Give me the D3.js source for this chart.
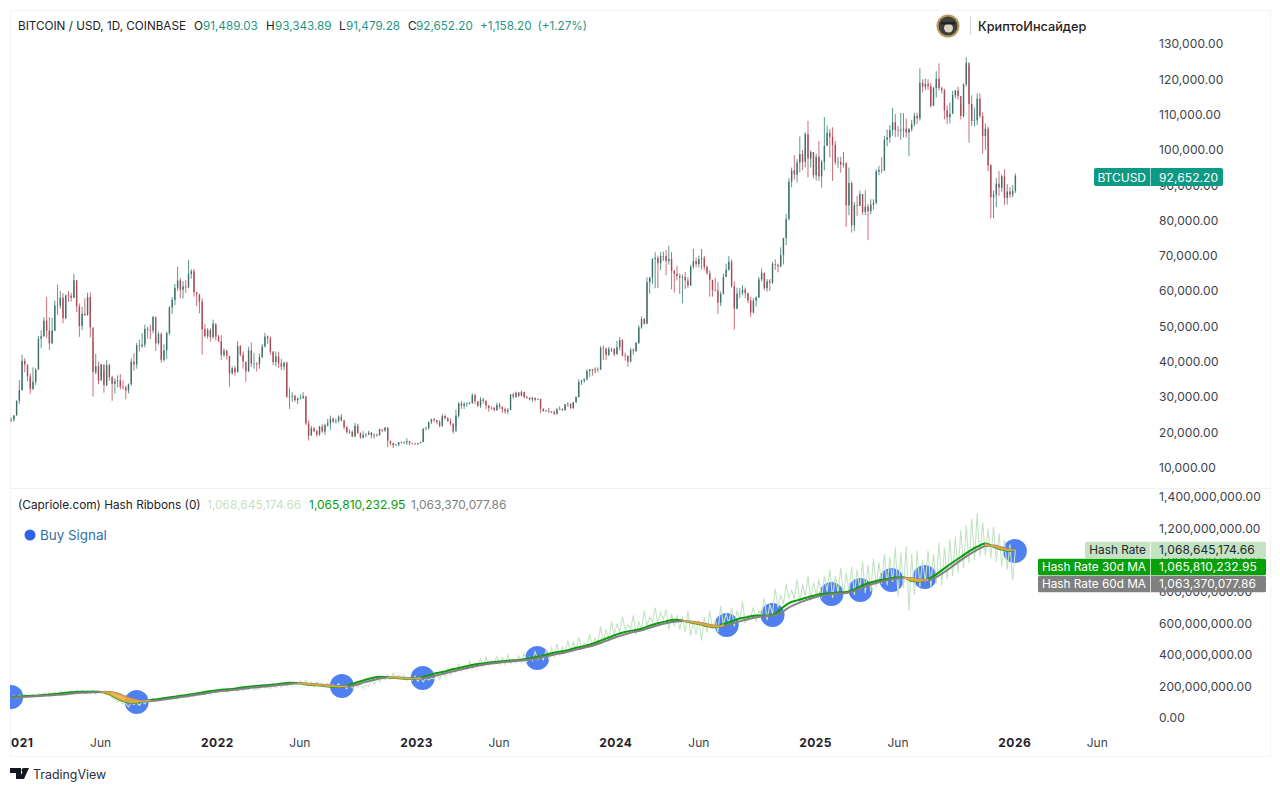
<!DOCTYPE html>
<html>
<head>
<meta charset="utf-8">
<title>BTCUSD Hash Ribbons</title>
<script src="https://cdn.jsdelivr.net/npm/d3@7"></script>
<style>
    html, body { margin: 0; background: #fff; }
    svg { display: block; }
    text { font-family: Inter, "Noto Sans", sans-serif; }
</style>
</head>
<body>
<svg id="chart" width="1280" height="791"></svg>
<script>
"use strict";

// Prices in thousands of USD, one reading every five days from 20 Dec 2020
var priceClose = [
    23.5,24.7,28.9,31.9,40.2,39.2,35.8,32.3,34.3,37.7,46.5,47.2,
    51.6,48.8,45.2,48.8,55.9,55.9,58.1,52.3,58.8,58.7,58.1,63.1,
    55.7,50.1,53.6,53.2,58.3,49.7,37.0,38.7,34.6,39.2,33.4,39.0,
    35.6,33.7,34.5,34.7,32.9,32.7,31.8,33.6,39.9,39.2,44.6,44.4,
    44.8,49.3,49.0,48.8,52.7,45.2,47.8,40.5,43.2,48.1,55.3,57.5,
    60.9,63.0,60.4,61.3,61.0,64.9,65.6,59.7,59.0,57.0,49.2,47.2,
    48.9,47.0,50.8,47.1,45.8,41.9,43.1,41.6,36.7,38.1,37.0,44.4,
    42.0,40.0,37.3,43.2,39.4,39.4,39.3,41.3,44.3,47.1,46.6,42.8,
    39.9,41.5,39.5,38.6,39.7,30.1,30.1,30.3,29.1,29.5,29.7,30.2,
    22.5,19.0,21.1,20.3,19.3,21.6,20.2,22.0,22.6,23.8,23.0,23.2,
    24.4,23.3,21.4,20.0,20.1,18.8,21.8,19.8,18.5,19.2,19.3,19.9,
    19.1,19.3,19.2,20.8,20.5,21.3,17.6,16.9,16.3,16.5,17.2,17.0,
    17.1,17.4,16.9,16.8,16.6,16.9,17.2,21.0,21.1,22.9,23.7,23.4,
    22.9,21.8,24.6,23.9,23.1,22.4,20.2,24.7,28.2,27.5,28.0,28.2,
    28.3,30.5,28.8,27.5,29.3,28.9,27.6,26.9,26.9,26.3,27.7,27.2,
    26.5,25.9,26.3,30.7,30.1,31.2,30.3,31.4,29.9,29.8,29.3,29.7,
    29.2,29.4,26.6,26.0,26.1,25.9,25.7,25.2,26.5,26.6,26.3,27.9,
    28.0,26.8,28.5,29.9,34.2,34.6,35.0,37.3,37.8,37.5,37.8,37.7,
    43.9,43.7,41.9,43.6,43.6,42.1,44.1,46.1,41.7,41.6,40.0,43.3,
    43.0,45.3,49.7,52.1,50.7,62.5,63.8,69.0,69.4,67.9,69.9,69.9,
    68.5,69.1,65.7,64.9,64.3,63.8,64.0,63.0,61.6,66.9,68.5,67.6,
    69.0,69.3,66.8,65.1,63.2,60.3,60.2,56.7,59.2,64.0,66.0,68.3,
    61.4,55.0,59.3,59.5,60.4,59.4,57.3,53.9,57.3,58.2,63.3,65.2,
    60.8,62.8,62.4,67.6,67.4,67.0,70.2,75.0,80.4,91.0,94.2,93.0,
    96.4,98.8,96.6,104.5,97.6,99.4,92.8,98.0,92.5,96.6,101.1,104.8,
    103.7,101.4,96.5,96.6,95.8,96.2,84.3,90.6,78.6,84.3,84.2,87.5,
    82.4,83.9,82.6,84.5,85.0,93.9,94.3,94.2,102.9,103.5,105.6,107.8,
    105.6,105.4,105.7,106.0,104.9,105.9,107.3,109.6,108.9,119.0,117.9,118.7,
    118.0,112.5,117.5,120.1,117.5,116.9,111.2,109.2,110.2,115.5,116.8,115.3,
    109.6,118.6,124.7,113.0,108.2,108.4,114.5,109.6,103.9,106.0,95.6,86.6,
    87.3,90.4,89.3,92.5,86.4,88.2,87.3,88.4,92.65
];
var priceHigh = [
    24.2,24.9,29.0,34.8,41.9,41.0,37.8,36.6,38.4,38.2,47.3,48.9,
    52.6,58.3,52.6,52.4,57.3,61.8,60.0,59.4,59.0,60.0,59.5,64.9,
    61.4,56.5,55.5,57.9,59.5,59.6,45.8,42.2,40.0,39.4,37.5,40.4,
    39.4,36.0,35.3,36.1,36.5,34.7,33.2,33.8,40.9,42.4,45.3,46.2,
    48.1,50.5,49.9,50.5,52.9,47.0,48.5,48.2,44.9,48.5,55.7,58.3,
    62.0,66.9,63.7,62.8,63.1,68.8,66.2,66.3,59.4,59.2,57.9,50.7,
    49.5,49.4,51.9,50.4,47.6,47.5,43.8,43.5,41.7,38.6,38.8,45.8,
    44.7,42.9,39.7,44.2,45.4,42.5,39.9,42.3,45.0,48.2,47.4,47.1,
    43.0,42.9,42.8,40.8,40.0,40.0,32.6,31.3,30.6,29.9,30.7,31.3,
    30.0,23.4,21.8,21.5,20.7,21.8,22.3,22.4,23.8,24.7,24.2,23.9,
    24.8,25.2,23.5,21.8,20.8,20.5,22.6,22.4,19.9,20.3,19.7,20.4,
    20.0,19.7,19.6,21.0,20.9,21.4,21.4,17.2,17.1,16.7,17.2,17.4,
    17.4,18.3,17.4,16.9,16.9,17.0,17.3,21.1,21.6,23.0,23.8,24.0,
    23.5,23.4,25.2,25.0,24.3,23.9,22.6,26.4,28.5,28.8,28.6,28.5,
    28.5,31.0,30.9,28.2,30.0,29.8,29.0,27.6,27.3,27.2,28.4,28.4,
    27.3,27.0,26.8,30.8,31.2,31.5,31.4,31.8,31.0,30.3,29.9,30.0,
    29.9,29.6,29.5,26.8,26.3,26.9,26.0,26.2,26.9,27.3,26.7,28.0,
    28.5,28.3,28.6,30.2,35.0,34.8,35.3,37.9,37.9,37.9,38.4,38.4,
    44.4,44.6,44.0,44.2,44.0,43.8,45.9,47.0,46.4,42.5,41.8,43.9,
    43.8,45.6,50.3,52.8,52.4,63.9,64.0,69.4,71.0,70.0,71.0,71.2,
    71.6,72.8,71.1,66.0,67.2,65.0,64.7,65.4,64.0,67.4,71.9,69.5,
    70.0,71.9,70.0,67.3,65.9,62.4,63.8,62.5,59.9,65.0,67.8,69.9,
    68.9,62.7,61.0,60.9,61.7,61.0,59.6,58.3,58.0,58.5,64.0,66.4,
    65.0,63.4,63.4,68.3,69.0,67.8,72.4,75.0,81.9,92.0,95.0,98.5,
    97.4,103.8,100.0,105.0,108.2,99.9,99.4,98.9,102.5,97.2,109.3,106.9,
    105.9,106.4,102.5,98.0,98.0,99.4,96.5,95.0,91.0,85.2,87.0,88.5,
    87.5,88.5,84.7,86.0,86.0,94.5,95.5,97.9,104.0,105.8,107.0,111.9,
    110.2,106.8,110.5,110.4,108.9,106.2,108.5,110.5,110.5,123.1,120.0,120.2,
    120.0,119.0,117.9,122.3,124.5,117.9,117.3,112.6,113.4,116.7,117.0,117.9,
    113.2,118.8,126.2,124.0,115.5,112.0,116.0,116.0,110.6,107.5,106.6,96.0,
    88.5,92.0,94.0,93.0,94.5,90.3,89.5,90.0,93.3
];
var priceLow = [
    22.9,23.0,26.9,28.0,31.9,37.0,34.4,30.9,31.9,33.4,38.2,43.8,
    47.0,46.7,43.3,45.0,48.6,53.2,55.0,50.9,52.0,56.9,57.0,58.0,
    54.0,47.0,48.9,52.9,53.0,46.9,30.1,36.4,33.6,35.0,31.2,33.0,
    34.6,28.9,30.9,32.7,32.1,32.1,29.3,31.0,33.2,37.4,38.0,42.9,
    43.9,44.0,46.5,46.4,48.0,43.0,44.8,39.7,40.0,40.8,47.5,53.5,
    56.0,60.0,58.0,57.9,59.5,60.8,63.5,58.4,55.7,53.7,42.0,46.9,
    46.5,45.6,46.5,46.0,45.5,40.5,41.3,40.6,32.9,36.3,36.0,37.0,
    41.5,38.0,34.3,37.0,38.5,38.0,37.2,38.0,41.0,44.0,45.0,41.9,
    39.0,38.6,38.2,37.6,37.6,29.7,26.6,28.6,28.6,28.0,29.3,29.4,
    22.0,17.6,19.7,20.0,18.7,19.0,19.8,19.3,21.5,20.7,22.6,22.5,
    22.7,23.1,20.8,19.6,19.6,18.6,18.6,19.5,18.2,18.2,18.5,19.2,
    18.3,18.2,18.7,19.0,20.0,20.1,15.7,16.3,15.5,16.2,16.0,16.8,
    16.7,16.4,16.3,16.6,16.4,16.5,16.9,17.2,20.5,20.8,22.3,22.9,
    22.2,21.4,21.5,23.6,23.0,21.9,19.6,21.7,24.0,26.6,26.6,27.2,
    27.8,28.0,27.9,27.1,26.9,28.1,26.6,25.8,26.4,25.9,26.0,26.6,
    25.4,25.3,25.1,26.3,29.5,29.7,29.9,30.2,29.6,29.5,29.0,28.6,
    28.7,29.2,25.4,25.8,25.8,25.4,25.4,24.9,25.0,26.4,26.0,26.0,
    27.2,26.6,26.7,28.3,29.9,33.4,34.0,34.6,35.6,36.0,36.7,37.0,
    37.7,40.4,40.5,41.6,42.8,41.5,42.0,43.2,41.5,40.3,38.5,39.8,
    41.9,42.7,45.0,49.3,50.5,50.8,59.2,62.0,60.8,60.8,66.0,68.5,
    64.5,67.5,60.5,59.6,63.0,59.2,56.5,60.6,60.9,61.5,66.3,66.7,
    66.7,66.1,65.9,64.5,58.4,58.4,59.9,53.5,55.7,59.0,64.0,65.8,
    61.0,49.1,54.8,58.0,58.8,58.0,56.5,52.6,53.7,55.6,58.0,62.7,
    60.2,59.8,60.0,62.0,66.0,65.3,66.7,67.5,73.0,80.0,89.4,91.6,
    90.8,93.6,94.2,95.0,92.2,95.0,92.0,91.3,91.2,89.3,94.2,101.3,
    97.9,91.2,95.7,94.9,93.5,95.0,78.2,81.5,76.6,77.0,81.2,84.0,
    81.6,81.5,74.4,81.8,83.1,84.6,92.8,93.4,94.0,101.0,102.0,104.0,
    103.6,103.7,102.9,103.5,103.5,98.2,105.2,106.7,107.3,108.3,116.3,116.9,
    117.0,112.0,112.4,114.8,116.8,116.0,108.6,107.3,107.5,110.7,114.6,114.2,
    108.6,109.2,117.9,102.0,106.8,106.6,107.0,109.0,98.9,100.0,94.0,80.6,
    80.6,83.8,87.0,88.0,84.4,84.5,86.4,86.6,87.8
];

// Hash rate in millions, same five day readings
var hashRaw = [
    132,140,128,146,136,150,134,139,148,137,152,145,
    158,142,160,150,165,152,170,158,168,163,172,155,
    178,160,176,162,170,155,166,150,172,158,165,148,
    150,130,118,100,112,90,92,70,100,85,98,80,
    102,90,118,98,124,108,120,112,130,115,122,118,
    132,120,140,128,138,130,148,135,155,142,150,148,
    165,150,172,158,180,168,175,162,190,172,185,170,
    200,172,186,180,205,178,188,182,212,190,196,186,
    208,190,212,195,220,200,215,205,228,208,235,210,
    240,205,230,198,228,212,215,200,222,205,210,200,
    218,192,205,185,212,190,215,195,225,188,210,200,
    245,215,250,228,258,240,275,245,285,250,270,255,
    270,240,252,238,265,232,258,228,255,240,252,248,
    275,245,290,262,310,272,305,290,340,295,330,305,
    360,315,345,325,375,330,385,335,365,345,390,340,
    385,340,400,345,370,350,395,352,410,355,385,362,
    420,370,395,368,430,375,445,385,470,400,450,415,
    490,425,480,430,510,445,475,455,530,460,505,470,
    580,480,560,500,610,525,595,545,640,560,590,565,
    650,530,610,555,680,585,640,610,700,600,670,625,
    690,560,660,580,650,560,640,545,680,520,610,530,
    620,490,640,540,680,560,625,545,710,590,660,600,
    700,580,680,620,740,600,650,640,700,610,680,650,
    760,620,720,660,820,700,780,720,850,760,810,755,
    880,730,850,770,900,745,860,780,880,760,900,800,
    940,760,900,790,950,770,920,800,960,780,940,810,
    990,790,970,800,1010,830,985,850,1040,840,1020,860,
    1080,770,1050,820,1090,680,1040,780,1060,830,1000,860,
    1060,830,1040,850,1110,840,1080,880,1130,900,1150,920,
    1190,950,1220,980,1260,1000,1298,1020,1240,1030,1200,1010,
    1210,990,1170,960,1130,940,1100,874,1068
];

// Moving averages in millions, one reading every fifteen days
var hashMa30 = [
    133,136,140,141,145,150,155,162,165,166,168,165,
    150,122,102,95,105,114,120,128,135,142,150,158,
    168,175,180,184,192,198,203,208,212,218,224,222,
    212,208,204,198,196,205,222,238,252,262,258,253,
    249,250,256,270,285,295,310,320,332,342,348,355,
    360,365,368,375,385,395,410,420,430,445,455,470,
    490,510,530,545,555,565,585,600,612,622,618,605,
    595,582,575,595,612,630,640,650,648,652,690,728,
    745,760,775,785,788,795,798,815,840,858,872,880,
    890,892,868,865,880,910,948,985,1020,1055,1085,1105,
    1085,1068,1060,1066
];
var hashMa60 = [
    130,132,135,138,141,144,148,152,158,160,163,165,
    165,155,135,118,108,108,112,120,127,134,142,150,
    158,166,172,177,183,189,195,200,205,210,216,220,
    219,215,210,206,201,200,208,224,238,250,257,258,
    254,251,250,258,270,283,296,308,320,331,340,347,
    353,358,363,368,376,386,398,408,420,433,445,458,
    475,495,515,530,545,555,572,587,600,610,615,612,
    604,594,585,582,596,612,626,638,645,648,665,700,
    725,745,762,775,782,788,792,805,825,845,860,872,
    882,888,885,878,872,892,925,962,1000,1035,1065,1090,
    1092,1080,1066,1063
];

var buySignalDates = [
    "2020-12-20","2021-08-07","2022-08-18","2023-01-13","2023-08-11","2024-07-23",
    "2024-10-15","2025-01-31","2025-03-25","2025-05-21","2025-07-21","2026-01-02"
];
var buySignalLevels = [133,101,203,253,380,589,652,785,811,874,893,1058];

// Axis labels
var priceTicks = [10,20,30,40,50,60,70,80,90,100,110,120,130];
var hashTicks = [0,200,400,600,800,1000,1200,1400];
var yearTicks = ["2021-01-01","2022-01-01","2023-01-01","2024-01-01","2025-01-01","2026-01-01"];
var junTicks = ["2021-06-01","2022-06-01","2023-06-01","2024-06-01","2025-06-01","2026-06-01"];

// Last value tags on the price scales
var hashTagNames = ["Hash Rate","Hash Rate 30d MA","Hash Rate 60d MA"];
var hashTagValues = ["1,068,645,174.66","1,065,810,232.95","1,063,370,077.86"];
var legendItems = [
    ["O",194,"#222"],["91,489.03",203,"#1f9683"],
    ["H",266,"#222"],["93,343.89",275,"#1f9683"],
    ["L",339,"#222"],["91,479.28",346,"#1f9683"],
    ["C",408,"#222"],["92,652.20",416,"#1f9683"],
    ["+1,158.20",480,"#1f9683"],["(+1.27%)",537.5,"#1f9683"]
];

var UP = "#2f7f74", DOWN = "#c04a58", MA30 = "#0a9c0a", MA60 = "#808080",
    RAW = "#c3e3c3", SIGNAL = "#4f7ff0", FILL = "#f2a93b", TEXT = "#3c3f4a";

var parseDate = d3.utcParse("%Y-%m-%d"),
    startDate = parseDate("2020-12-20"),
    dates = priceClose.map(function (d, i) { return d3.utcDay.offset(startDate, i * 5); }),
    lastDate = dates[dates.length - 1],
    maDates = hashMa30.map(function (d, i) {
        var t = d3.utcDay.offset(startDate, i * 15);
        return t > lastDate ? lastDate : t;
    });

var svg = d3.select("#chart");

var x = d3.scaleUtc()
    .domain([parseDate("2021-01-01"), parseDate("2026-01-01")])
    .range([17.7, 1014.3]);
var yPrice = d3.scaleLinear().domain([10, 130]).range([467.5, 44]);
var yHash = d3.scaleLinear().domain([0, 1400]).range([718, 497]);

svg.append("defs").append("clipPath").attr("id", "plotClip")
    .append("rect").attr("x", 10).attr("y", 10).attr("width", 1260).attr("height", 746);

// Frame and pane separators
svg.append("rect").attr("x", 10.5).attr("y", 10.5).attr("width", 1260).attr("height", 746)
    .attr("fill", "none").attr("stroke", "#f3f4f5");
svg.append("line").attr("x1", 10).attr("x2", 1270).attr("y1", 488.5).attr("y2", 488.5)
    .attr("stroke", "#f0f1f2");

// Candles
var candles = svg.append("g").attr("clip-path", "url(#plotClip)");
function isUp(i) {
    return i === 0 || priceClose[i] >= priceClose[i - 1];
}
candles.selectAll("line.wick").data(priceClose).enter().append("line")
    .attr("class", "wick")
    .attr("x1", function (d, i) { return x(dates[i]); })
    .attr("x2", function (d, i) { return x(dates[i]); })
    .attr("y1", function (d, i) { return yPrice(priceHigh[i]); })
    .attr("y2", function (d, i) { return yPrice(priceLow[i]); })
    .attr("stroke", function (d, i) { return isUp(i) ? UP : DOWN; })
    .attr("stroke-opacity", 0.8)
    .attr("stroke-width", 1);
candles.selectAll("rect.body").data(priceClose).enter().append("rect")
    .attr("class", "body")
    .attr("x", function (d, i) { return x(dates[i]) - 0.7; })
    .attr("width", 1.4)
    .attr("y", function (d, i) {
        var open = i === 0 ? d : priceClose[i - 1];
        return yPrice(Math.max(open, d));
    })
    .attr("height", function (d, i) {
        var open = i === 0 ? d : priceClose[i - 1];
        return Math.max(0.6, Math.abs(yPrice(open) - yPrice(d)));
    })
    .attr("fill", function (d, i) { return isUp(i) ? "#3f6f69" : "#a84a55"; });

// Hash ribbons
var ribbons = svg.append("g").attr("clip-path", "url(#plotClip)");

ribbons.selectAll("circle").data(buySignalDates).enter().append("circle")
    .attr("cx", function (d) { return x(parseDate(d)); })
    .attr("cy", function (d, i) { return yHash(buySignalLevels[i]); })
    .attr("r", 12)
    .attr("fill", SIGNAL);

ribbons.append("path")
    .attr("d", d3.line()
        .x(function (d, i) { return x(dates[i]); })
        .y(function (d) { return yHash(d); })(hashRaw))
    .attr("fill", "none").attr("stroke", RAW).attr("stroke-width", 1.1);

var maLine = d3.line()
    .x(function (d, i) { return x(maDates[i]); })
    .y(function (d) { return yHash(d); })
    .curve(d3.curveMonotoneX);
ribbons.append("path").attr("d", maLine(hashMa30))
    .attr("fill", "none").attr("stroke", MA30).attr("stroke-width", 2);
ribbons.append("path").attr("d", maLine(hashMa60))
    .attr("fill", "none").attr("stroke", MA60).attr("stroke-width", 2);

// Orange band where the 30d average sits under the 60d one
function isInverted(i) {
    return hashMa30[i] < hashMa60[i] ||
        hashMa30[i - 1] < hashMa60[i - 1] ||
        hashMa30[i + 1] < hashMa60[i + 1];
}
ribbons.append("path")
    .attr("d", d3.area()
        .defined(function (d, i) { return isInverted(i); })
        .x(function (d, i) { return x(maDates[i]); })
        .y0(function (d) { return yHash(d); })
        .y1(function (d, i) { return yHash(hashMa60[i]); })
        .curve(d3.curveMonotoneX)(hashMa30))
    .attr("fill", FILL).attr("fill-opacity", 0.85)
    .attr("stroke", FILL).attr("stroke-opacity", 0.7).attr("stroke-width", 1);

// Price axes
function styleAxis(g) {
    g.select(".domain").remove();
    g.selectAll("text").attr("fill", TEXT).style("font-size", "12px")
        .style("letter-spacing", "0.1px");
}
svg.append("g").attr("transform", "translate(1159,0)")
    .call(d3.axisRight(yPrice).tickValues(priceTicks).tickSize(0).tickPadding(0)
        .tickFormat(function (d) { return d3.format(",.2f")(d * 1000); }))
    .call(styleAxis);
svg.append("g").attr("transform", "translate(1159,0)")
    .call(d3.axisRight(yHash).tickValues(hashTicks).tickSize(0).tickPadding(0)
        .tickFormat(function (d) { return d3.format(",.2f")(d * 1e6); }))
    .call(styleAxis);

// Time axis
var timeClip = svg.append("g").attr("clip-path", "url(#plotClip)");
timeClip.append("g").attr("transform", "translate(0,736)")
    .call(d3.axisBottom(x).tickValues(yearTicks.map(parseDate)).tickSize(0).tickPadding(2)
        .tickFormat(d3.utcFormat("%Y")))
    .call(function (g) {
        g.select(".domain").remove();
        g.selectAll("text").attr("fill", "#1f2129").style("font-size", "12px")
            .style("font-weight", 700).style("letter-spacing", "0.5px");
    });
timeClip.append("g").attr("transform", "translate(0,736)")
    .call(d3.axisBottom(x).tickValues(junTicks.map(parseDate)).tickSize(0).tickPadding(2)
        .tickFormat(d3.utcFormat("%b")))
    .call(function (g) {
        g.select(".domain").remove();
        g.selectAll("text").attr("fill", TEXT).style("font-size", "12px");
    });

// BTCUSD tag
var tagY = yPrice(92.652) + 1.2;
svg.append("rect").attr("x", 1094).attr("y", tagY - 9).attr("width", 129).attr("height", 18)
    .attr("rx", 2).attr("fill", "#0c9a84");
svg.append("line").attr("x1", 1150.5).attr("x2", 1150.5).attr("y1", tagY - 9).attr("y2", tagY + 9)
    .attr("stroke", "#fff").attr("stroke-opacity", 0.6);
svg.append("text").attr("x", 1146).attr("y", tagY + 4.5).attr("text-anchor", "end")
    .attr("fill", "#fff").style("font-size", "12px").text("BTCUSD");
svg.append("text").attr("x", 1159).attr("y", tagY + 4.5)
    .attr("fill", "#fff").style("font-size", "12px").style("letter-spacing", "0.1px").text("92,652.20");

// Hash rate tags
var tagFills = [RAW, "#08a008", MA60],
    tagText = ["#26282f", "#fff", "#fff"],
    tagLefts = [1085, 1038, 1038];
hashTagNames.forEach(function (name, i) {
    var top = yHash(1068.645) - 7.5 + i * 17;
    svg.append("rect").attr("x", tagLefts[i]).attr("y", top).attr("width", 1266 - tagLefts[i])
        .attr("height", 16.5).attr("fill", tagFills[i]).attr("rx", 1.5);
    svg.append("line").attr("x1", 1150.5).attr("x2", 1150.5).attr("y1", top).attr("y2", top + 16.5)
        .attr("stroke", "#fff").attr("stroke-opacity", 0.7);
    svg.append("text").attr("x", 1146).attr("y", top + 12.5).attr("text-anchor", "end")
        .attr("fill", tagText[i]).style("font-size", "11.8px").text(name);
    svg.append("text").attr("x", 1159).attr("y", top + 12.5)
        .attr("fill", tagText[i]).style("font-size", "12px").style("letter-spacing", "0.1px")
        .text(hashTagValues[i]);
});

// Legends
svg.append("text").attr("x", 18).attr("y", 30).attr("fill", "#222")
    .style("font-size", "11.7px").text("BITCOIN / USD, 1D, COINBASE");
svg.selectAll("text.ohlc").data(legendItems).enter().append("text")
    .attr("class", "ohlc")
    .attr("x", function (d) { return d[1]; })
    .attr("y", 30)
    .attr("fill", function (d) { return d[2]; })
    .style("font-size", "11.7px")
    .text(function (d) { return d[0]; });

svg.append("text").attr("x", 18).attr("y", 509).attr("fill", "#222")
    .style("font-size", "11.8px").text("(Capriole.com) Hash Ribbons (0)");
[[207, RAW], [309, MA30], [411, MA60]].forEach(function (d, i) {
    svg.append("text").attr("x", d[0]).attr("y", 509).attr("fill", d[1])
        .style("font-size", "12px").text(hashTagValues[i]);
});

svg.append("circle").attr("cx", 30).attr("cy", 535).attr("r", 5.5).attr("fill", "#2f62e8");
svg.append("text").attr("x", 40).attr("y", 540).attr("fill", "#2f6fa8")
    .style("font-size", "13.4px").text("Buy Signal");

// KriptoInsider badge
var badge = svg.append("g");
badge.append("circle").attr("cx", 948).attr("cy", 26).attr("r", 11.5).attr("fill", "#b59a63");
badge.append("circle").attr("cx", 948).attr("cy", 26).attr("r", 9.5).attr("fill", "#3f4039");
badge.append("circle").attr("cx", 948.5).attr("cy", 28).attr("r", 4.5).attr("fill", "#d8d4c6");
badge.append("rect").attr("x", 941).attr("y", 22).attr("width", 14).attr("height", 2.5).attr("fill", "#222");
badge.append("line").attr("x1", 970.5).attr("x2", 970.5).attr("y1", 16).attr("y2", 35)
    .attr("stroke", "#d4d4d4");
badge.append("text").attr("x", 978).attr("y", 31).attr("fill", "#222")
    .style("font-size", "12.7px").style("font-weight", 500).text("КриптоИнсайдер");

// TradingView mark
var tv = svg.append("g").attr("fill", "#131722");
tv.append("path").attr("d", "M10,768H21V779H16V773H10Z");
tv.append("circle").attr("cx", 23.8).attr("cy", 770.2).attr("r", 2.2);
tv.append("path").attr("d", "M24,779H19L24.5,768H29Z");
svg.append("text").attr("x", 33).attr("y", 779).attr("fill", "#2a2e39")
    .style("font-size", "12.4px").text("TradingView");
</script>
</body>
</html>
